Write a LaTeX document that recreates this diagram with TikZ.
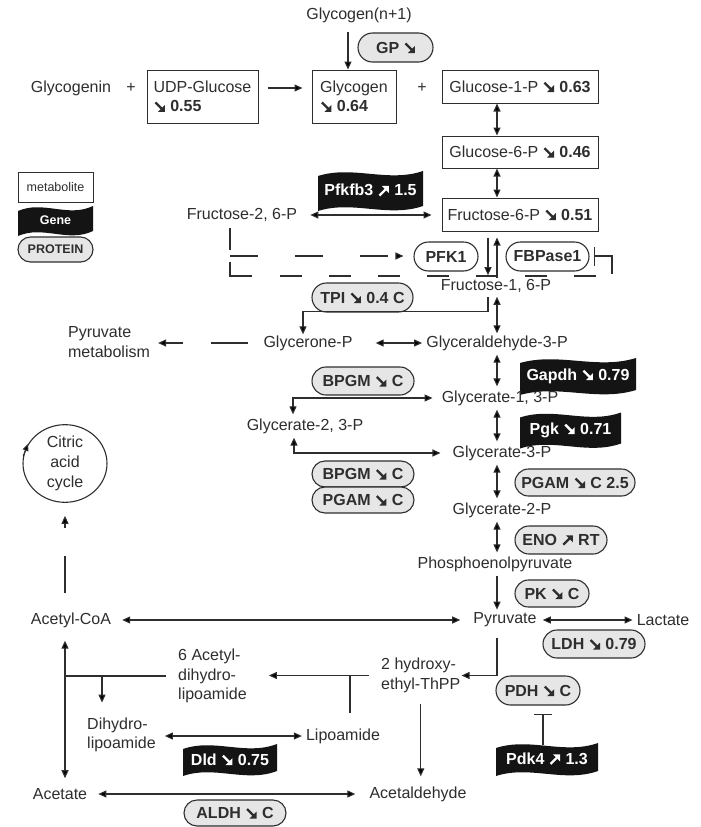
\documentclass[tikz,border=0pt]{standalone}
\usepackage{fontspec}
\setmainfont{Liberation Sans}
\usetikzlibrary{arrows.meta,shapes.geometric,shapes.misc,calc}
\definecolor{ink}{HTML}{2E2E2E}
\definecolor{pillgray}{HTML}{E6E6E6}
\definecolor{genefill}{HTML}{141414}
\newcommand{\arrdn}{\hspace{0.6pt}\tikz[x=1pt,y=1pt,baseline=0pt]{\draw[line width=2.3pt] (0.5,9.5) -- (7.5,2.5); \fill (3,0) -- (10,0) -- (10,7) -- cycle;}\hspace{1pt}}
\newcommand{\arrup}{\hspace{0.6pt}\tikz[x=1pt,y=1pt,baseline=0pt]{\draw[line width=2.3pt] (0.5,0.5) -- (7.5,7.5); \fill (3,10) -- (10,10) -- (10,3) -- cycle;}\hspace{1pt}}
% name, cx, cy, w, h, text
\newcommand{\genebox}[6]{%
 \fill[genefill] ({#2-#4/2},{#3-#5/2+3}) .. controls ({#2-#4/6},{#3-#5/2-8}) and ({#2+#4/6},{#3-#5/2+10}) .. ({#2+#4/2},{#3-#5/2-2}) -- ({#2+#4/2},{#3+#5/2-2}) .. controls ({#2+#4/6},{#3+#5/2+10}) and ({#2-#4/6},{#3+#5/2-8}) .. ({#2-#4/2},{#3+#5/2+3}) -- cycle;
 \node[genetext, minimum width=#4pt, minimum height=#5pt] (#1) at (#2,#3) {#6};}
\tikzset{
 every node/.style={font=\fontsize{16}{19.5}\selectfont, text=ink, inner sep=1pt},
 metbox/.style={draw=ink, line width=1pt, align=left, inner sep=0pt},
 pill/.style={rounded rectangle, draw=ink, line width=1.1pt, fill=pillgray, font=\fontsize{16}{19}\selectfont\bfseries, inner sep=0pt},
 wpill/.style={pill, fill=white},
 genetext/.style={text=white, font=\fontsize{16}{19}\selectfont\bfseries, inner sep=0pt},
 ln/.style={draw=ink, line width=1.1pt},
 arr/.style={ln, -{Triangle[length=8pt,width=7pt]}},
 dbl/.style={ln, {Triangle[length=8pt,width=7pt]}-{Triangle[length=8pt,width=7pt]}},
}
\begin{document}
\begin{tikzpicture}[x=1pt,y=-1pt]
\fill[white] (0,0) rectangle (701,827);
\useasboundingbox (0,0) rectangle (701,827);

% ---------- legend ----------
\node[metbox, minimum width=75pt, minimum height=30pt, font=\fontsize{12.5}{14}\selectfont, align=center] (legmet) at (55.5,187) {metabolite};
\genebox{leggene}{55.5}{220.5}{75}{25}{\fontsize{12.5}{14}\selectfont Gene}
\node[pill, minimum width=75pt, minimum height=25pt, font=\fontsize{12.5}{14}\selectfont\bfseries] (legprot) at (55.5,249.5) {PROTEIN};

% ---------- glycogen part ----------
\node (glyn1) at (359,15) {Glycogen(n+1)};
\node[pill, minimum width=75pt, minimum height=29pt] (gp) at (395.5,47.5) {GP \arrdn};
\node (glycogenin) at (71,88) {Glycogenin};
\node (plus1) at (131,88) {+};
\node[metbox, minimum width=111pt, minimum height=53pt] (udp) at (202.5,96.5) {UDP-Glucose\\\arrdn\ \textbf{0.55}};
\node[metbox, minimum width=84pt, minimum height=53pt] (glycogen) at (354,96.5) {Glycogen\\\arrdn\ \textbf{0.64}};
\node (plus2) at (422,88) {+};
\node[metbox, minimum width=156pt, minimum height=33pt] (g1p) at (520,86.5) {Glucose-1-P \arrdn\ \textbf{0.63}};
\node[metbox, minimum width=156pt, minimum height=32pt] (g6p) at (520,152) {Glucose-6-P \arrdn\ \textbf{0.46}};
\node[metbox, minimum width=156pt, minimum height=33pt] (f6p) at (520,214.5) {Fructose-6-P \arrdn\ \textbf{0.51}};
\genebox{pfkfb3}{370.5}{190.5}{105}{35}{Pfkfb3 \arrup\ 1.5}
\node (f26p) at (242,215) {Fructose-2, 6-P};
\node[wpill, minimum width=64pt, minimum height=29pt] (pfk1) at (446,256.5) {PFK1};
\node[wpill, minimum width=83pt, minimum height=29pt] (fbp) at (547.5,256.5) {FBPase1};
\node (f16p) at (496,286) {Fructose-1, 6-P};
\node[pill, minimum width=101pt, minimum height=29pt] (tpi) at (362.5,297.5) {TPI \arrdn\ 0.4 C};

% ---------- glycolysis ----------
\node (glycerone) at (308,343) {Glycerone-P};
\node[align=left] (pyrmet) at (109,342) {Pyruvate\\metabolism};
\node (gap3p) at (497,343) {Glyceraldehyde-3-P};
\genebox{gapdh}{578}{376}{116}{32}{Gapdh \arrdn\ 0.79}
\node[pill, minimum width=102pt, minimum height=28pt] (bpgm1) at (363,381) {BPGM \arrdn\ C};
\node (g13p) at (500,398) {Glycerate-1, 3-P};
\node (g23p) at (305,426) {Glycerate-2, 3-P};
\genebox{pgk}{570.5}{430}{101}{31}{Pgk \arrdn\ 0.71}
\node (g3p) at (502,453) {Glycerate-3-P};
\node[pill, minimum width=102pt, minimum height=26pt] (bpgm2) at (363,474) {BPGM \arrdn\ C};
\node[pill, minimum width=102pt, minimum height=26pt] (pgam) at (363,500) {PGAM \arrdn\ C};
\node[pill, minimum width=120pt, minimum height=27pt] (pgam25) at (575,482.5) {PGAM \arrdn\ C 2.5};
\node (g2p) at (502,510) {Glycerate-2-P};
\node[pill, minimum width=92pt, minimum height=28pt] (eno) at (561,540) {ENO \arrup\ RT};
\node (pep) at (495,564) {Phosphoenolpyruvate};
\node[pill, minimum width=74pt, minimum height=27pt] (pk) at (552,593.5) {PK \arrdn\ C};

% ---------- lower part ----------
\node[ellipse, draw=ink, line width=1.1pt, minimum width=84pt, minimum height=73pt, inner sep=0pt, align=center, font=\fontsize{16}{20}\selectfont] (tca) at (65,463.5) {Citric\\acid\\cycle};
\node (acoa) at (71,620) {Acetyl-CoA};
\node (pyr) at (505,620) {Pyruvate};
\node (lact) at (663,620) {Lactate};
\node[pill, minimum width=102pt, minimum height=28pt] (ldh) at (594,644) {LDH \arrdn\ 0.79};
\node[anchor=west, align=left] (acdl) at (177,676) {6 Acetyl-\\dihydro-\\lipoamide};
\node[anchor=west, align=left] (hydroxy) at (380,675.5) {2 hydroxy-\\ethyl-ThPP};
\node[pill, minimum width=84pt, minimum height=29pt] (pdh) at (538,690.5) {PDH \arrdn\ C};
\genebox{pdk4}{547}{759}{102}{28}{Pdk4 \arrup\ 1.3}
\node[anchor=west, align=left] (dihydro) at (86,735) {Dihydro-\\lipoamide};
\node (lipo) at (343,736) {Lipoamide};
\genebox{dld}{230}{759.5}{94}{27}{Dld \arrdn\ 0.75}
\node (acet) at (60,794) {Acetate};
\node (acald) at (418,794) {Acetaldehyde};
\node[pill, minimum width=102pt, minimum height=26pt] (aldh) at (235,813) {ALDH \arrdn\ C};

% ---------- connectors ----------
\draw[arr, shorten <=8pt] ([xshift=-11pt]glyn1.south) -- ([xshift=-6pt]glycogen.north);
\draw[arr, shorten <=9pt, shorten >=9pt] (udp.east |- glycogenin) -- (glycogen.west |- glycogenin);
\draw[dbl] ([xshift=-23pt]g1p.south) -- ([xshift=-23pt]g6p.north);
\draw[dbl] ([xshift=-23pt]g6p.south) -- ([xshift=-23pt]f6p.north);
\draw[dbl, shorten <=12pt, shorten >=10pt] (f26p.east) -- (f6p.west |- f26p.east);

% dashed regulation lines
\coordinate (dtop) at (230,228);
\coordinate (dmid) at (230,256);
\coordinate (dlow) at (230,262);
\coordinate (dcor) at (230,276);
\coordinate (dbs) at (252,276);
\coordinate (dbd) at (280,276);
\coordinate (dbe) at (600,276);
\coordinate (drb) at (612,274);
\coordinate (drt) at (612,256);
\draw[ln] (dtop) -- (230,250);
\draw[arr, dash pattern=on 28pt off 37pt, shorten >=10pt] (dmid) -- (pfk1.west |- dmid);
\draw[ln] (dlow) -- (dcor) -- (dbs);
\draw[ln, dash pattern=on 22pt off 27pt] (dbd) -- (dbe);
\draw[ln, -{Bar[width=19pt]}, shorten >=4pt] (drb) -- (drt) -- (fbp.east |- drt);

\draw[arr, shorten <=6pt, shorten >=3pt] ([xshift=-32pt]f6p.south) -- ([xshift=-32pt]f6p.south |- f16p.north);
\draw[arr, shorten >=6pt] ([xshift=-23pt]f6p.south |- f16p.north) -- ([xshift=-23pt]f6p.south);

\draw[arr, shorten <=3pt] ([xshift=-8pt]f16p.south) -- ++(0,18) -| ([xshift=-5pt]glycerone.north);
\draw[dbl, shorten <=3pt, shorten >=1pt] ([xshift=1pt]f16p.south) -- (gap3p.north);
\draw[dbl, shorten <=22pt, shorten >=3pt] (glycerone.east) -- (gap3p.west);
\draw[arr, dash pattern=on 37pt off 28pt, shorten <=14pt, shorten >=7pt] (glycerone.west) -- (pyrmet.east |- glycerone.west);
\draw[dbl, shorten <=3pt, shorten >=3pt] (gap3p.south) -- (gap3p.south |- g13p.north);
\draw[dbl, shorten >=3pt] ([xshift=-8pt]g13p.west) -| ([xshift=-12pt]g23p.north);
\draw[dbl, shorten <=3pt, shorten >=3pt] ([xshift=-3pt]g13p.south) -- ([xshift=-5pt]g3p.north);
\draw[dbl, shorten >=3pt] ([xshift=-11pt]g3p.west) -| ([xshift=-11pt]g23p.south);
\draw[dbl, shorten <=3pt, shorten >=3pt] ([xshift=-5pt]g3p.south) -- ([xshift=-5pt]g2p.north);
\draw[dbl, shorten <=3pt, shorten >=3pt] ([xshift=-5pt]g2p.south) -- ([xshift=2pt]pep.north);
\draw[arr, shorten <=3pt, shorten >=2pt] ([xshift=2pt]pep.south) -- ([xshift=-8pt]pyr.north);

\draw[dbl, shorten <=10pt, shorten >=12pt] (acoa.east) -- (pyr.west);
\draw[dbl, shorten <=5pt, shorten >=3pt] (pyr.east) -- (lact.west);
\draw[arr, shorten <=10pt] ([xshift=-8pt]pyr.south) |- (hydroxy.east);
\draw[arr, shorten >=21pt] ([xshift=-11pt]hydroxy.west) -- (acdl.east |- hydroxy.west);
\draw[ln, shorten <=14pt] ([xshift=7pt]lipo.north) -- ([xshift=7pt]lipo.north |- hydroxy.west);
\draw[ln] ([xshift=-11pt]acdl.west) -- ([xshift=-6pt]acoa.south |- acdl.west);
\draw[arr, shorten >=14pt] ([xshift=16pt]dihydro.west |- acdl.west) -- ([xshift=16pt]dihydro.west |- dihydro.north);
\draw[dbl, shorten <=12pt, shorten >=9pt] ([xshift=-6pt]acoa.south) -- ([xshift=5pt]acet.north);
\draw[dbl, shorten <=8pt, shorten >=3pt] (dihydro.east |- lipo.west) -- (lipo.west);
\draw[arr, shorten <=10pt, shorten >=9pt] (hydroxy.south) -- (hydroxy.south |- acald.north);
\draw[dbl, shorten <=10pt, shorten >=13pt] (acet.east) -- (acald.west);
\draw[ln, -{Bar[width=18pt]}, shorten >=8pt] ([xshift=-4pt]pdk4.north) -- ([xshift=5pt]pdh.south);
\draw[arr, dash pattern=on 37pt off 28pt, shorten <=18pt, shorten >=13pt] ([xshift=-6pt]acoa.north) -- (tca.south);
\draw[ln, -{Triangle[length=7pt,width=6pt]}] (tca.170) -- (tca.152);
\end{tikzpicture}
\end{document}
